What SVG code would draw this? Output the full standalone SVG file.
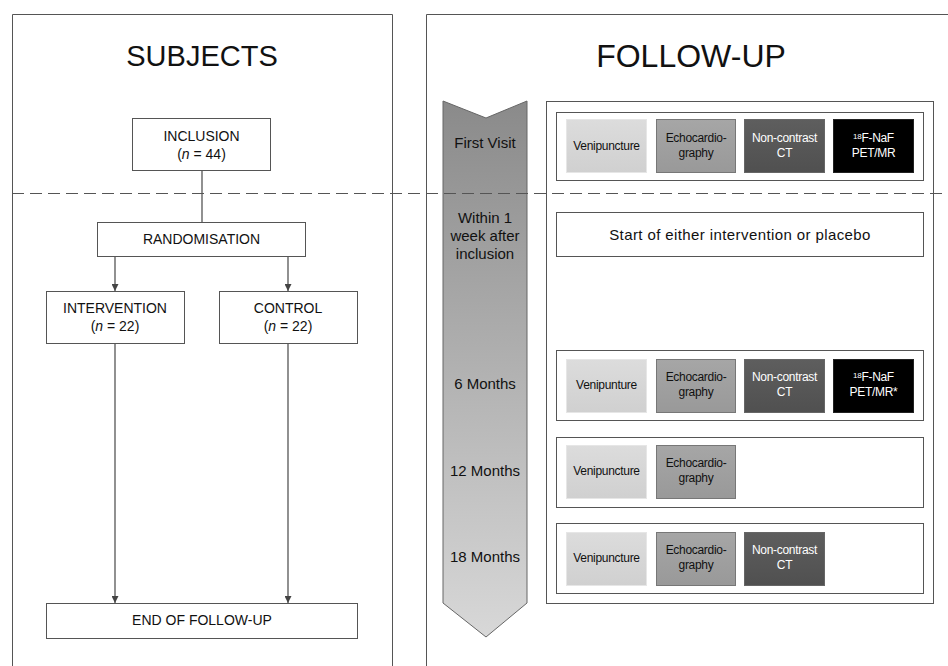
<svg xmlns="http://www.w3.org/2000/svg" width="948" height="666" viewBox="0 0 948 666">
<style>
text{font-family:"Liberation Sans",Arial,sans-serif;fill:#111;text-anchor:middle}
.panel{fill:none;stroke:#555;stroke-width:1}
.box{fill:#fff;stroke:#555;stroke-width:1}
.t13{font-size:14px}
.t11{font-size:12px;letter-spacing:-0.3px}
.lbl{font-size:15px}
.conn{stroke:#555;stroke-width:1.3;fill:none}
.vp{fill:url(#gVp);stroke:#e6e6e6}
.ec{fill:url(#gEc);stroke:#777}
.ct{fill:url(#gCt);stroke:#666}
.pet{fill:#000;stroke:#222}
.w{fill:#fff}
</style>
<defs>
<linearGradient id="gArrow" x1="0" y1="0" x2="0" y2="1">
<stop offset="0" stop-color="#8a8a8a"/>
<stop offset="1" stop-color="#d8d8d8"/>
</linearGradient>
<linearGradient id="gVp" x1="0" y1="0" x2="0" y2="1">
<stop offset="0" stop-color="#dcdcdc"/>
<stop offset="1" stop-color="#d0d0d0"/>
</linearGradient>
<linearGradient id="gEc" x1="0" y1="0" x2="0" y2="1">
<stop offset="0" stop-color="#a6a6a6"/>
<stop offset="1" stop-color="#999"/>
</linearGradient>
<linearGradient id="gCt" x1="0" y1="0" x2="0" y2="1">
<stop offset="0" stop-color="#5e5e5e"/>
<stop offset="1" stop-color="#505050"/>
</linearGradient>
<marker id="ah" viewBox="0 0 10 10" refX="10" refY="5" markerWidth="7" markerHeight="7" markerUnits="userSpaceOnUse" orient="auto">
<path d="M0,0 L10,5 L0,10 z" fill="#444"/>
</marker>
</defs>

<rect width="948" height="666" fill="#fff"/>

<!-- panels -->
<g id="panel-subjects">
<path class="panel" d="M12.5,666 V14.5 H392.5 V666"/>
<text x="202" y="66" style="font-size:29px">SUBJECTS</text>
</g>
<g id="panel-followup">
<path class="panel" d="M426.5,666 V14.5 H948"/>
<text x="691" y="67" style="font-size:32px">FOLLOW-UP</text>
</g>

<!-- connectors -->
<g id="connectors">
<line class="conn" x1="202" y1="170" x2="202" y2="222"/>
<line class="conn" x1="115" y1="256" x2="115" y2="291" marker-end="url(#ah)"/>
<line class="conn" x1="288" y1="256" x2="288" y2="291" marker-end="url(#ah)"/>
<line class="conn" x1="115" y1="343" x2="115" y2="603" marker-end="url(#ah)"/>
<line class="conn" x1="288" y1="343" x2="288" y2="603" marker-end="url(#ah)"/>
</g>

<!-- left nodes -->
<g id="inclusion">
<rect class="box" x="132.5" y="118.5" width="138" height="52"/>
<text class="t13" x="201.5" y="141">INCLUSION</text>
<text class="t13" x="201.5" y="159">(<tspan font-style="italic">n</tspan> = 44)</text>
</g>
<g id="randomisation">
<rect class="box" x="97.5" y="222.5" width="208" height="34"/>
<text class="t13" x="201.5" y="244">RANDOMISATION</text>
</g>
<g id="intervention">
<rect class="box" x="46.5" y="291.5" width="138" height="52"/>
<text class="t13" x="115" y="313">INTERVENTION</text>
<text class="t13" x="115" y="331">(<tspan font-style="italic">n</tspan> = 22)</text>
</g>
<g id="control">
<rect class="box" x="219.5" y="291.5" width="138" height="52"/>
<text class="t13" x="288" y="313">CONTROL</text>
<text class="t13" x="288" y="331">(<tspan font-style="italic">n</tspan> = 22)</text>
</g>
<g id="end">
<rect class="box" x="46.5" y="603.5" width="311" height="35"/>
<text class="t13" x="202" y="625">END OF FOLLOW-UP</text>
</g>

<!-- timeline arrow -->
<g id="timeline">
<path d="M443,101 L486,118 L527,101 L527,603 L486,637 L443,603 Z" fill="url(#gArrow)" stroke="#666" stroke-width="1"/>
<text class="lbl" x="485" y="148">First Visit</text>
<text class="lbl" x="485" y="223">Within 1</text>
<text class="lbl" x="485" y="241">week after</text>
<text class="lbl" x="485" y="259">inclusion</text>
<text class="lbl" x="485" y="389">6 Months</text>
<text class="lbl" x="485" y="476">12 Months</text>
<text class="lbl" x="485" y="562">18 Months</text>
</g>

<!-- right outer box -->
<g id="schedule">
<rect class="box" x="546.5" y="101.5" width="387" height="502"/>
</g>

<!-- first visit -->
<g id="row-first-visit">
<rect class="box" x="556.5" y="112.5" width="367" height="68"/>
<rect class="vp" x="566.5" y="119.5" width="80" height="53"/>
<text class="t11" x="606.5" y="150">Venipuncture</text>
<rect class="ec" x="656.5" y="119.5" width="79" height="53"/>
<text class="t11" x="696" y="142">Echocardio-</text>
<text class="t11" x="696" y="157">graphy</text>
<rect class="ct" x="744.5" y="119.5" width="80" height="53"/>
<text class="t11 w" x="784.5" y="142">Non-contrast</text>
<text class="t11 w" x="784.5" y="157">CT</text>
<rect class="pet" x="833.5" y="119.5" width="80" height="53"/>
<text class="t11 w" x="873.5" y="142"><tspan font-size="8" dy="-3">18</tspan><tspan dy="3">F-NaF</tspan></text>
<text class="t11 w" x="873.5" y="157">PET/MR</text>
</g>

<g id="row-start">
<rect class="box" x="556.5" y="212.5" width="367" height="44"/>
<text x="740" y="240" style="font-size:15px;letter-spacing:0.4px">Start of either intervention or placebo</text>
</g>

<g id="row-6-months">
<rect class="box" x="556.5" y="350.5" width="367" height="70"/>
<rect class="vp" x="566.5" y="359.5" width="80" height="53"/>
<text class="t11" x="606.5" y="389">Venipunture</text>
<rect class="ec" x="656.5" y="359.5" width="79" height="53"/>
<text class="t11" x="696" y="381">Echocardio-</text>
<text class="t11" x="696" y="396">graphy</text>
<rect class="ct" x="744.5" y="359.5" width="80" height="53"/>
<text class="t11 w" x="784.5" y="381">Non-contrast</text>
<text class="t11 w" x="784.5" y="396">CT</text>
<rect class="pet" x="833.5" y="359.5" width="80" height="53"/>
<text class="t11 w" x="873.5" y="381"><tspan font-size="8" dy="-3">18</tspan><tspan dy="3">F-NaF</tspan></text>
<text class="t11 w" x="873.5" y="396">PET/MR*</text>
</g>

<g id="row-12-months">
<rect class="box" x="556.5" y="437.5" width="367" height="70"/>
<rect class="vp" x="566.5" y="445.5" width="80" height="53"/>
<text class="t11" x="606.5" y="475">Venipuncture</text>
<rect class="ec" x="656.5" y="445.5" width="79" height="53"/>
<text class="t11" x="696" y="467">Echocardio-</text>
<text class="t11" x="696" y="482">graphy</text>
</g>

<g id="row-18-months">
<rect class="box" x="556.5" y="523.5" width="367" height="70"/>
<rect class="vp" x="566.5" y="532.5" width="80" height="53"/>
<text class="t11" x="606.5" y="562">Venipuncture</text>
<rect class="ec" x="656.5" y="532.5" width="79" height="53"/>
<text class="t11" x="696" y="554">Echocardio-</text>
<text class="t11" x="696" y="569">graphy</text>
<rect class="ct" x="744.5" y="532.5" width="80" height="53"/>
<text class="t11 w" x="784.5" y="554">Non-contrast</text>
<text class="t11 w" x="784.5" y="569">CT</text>
</g>

<!-- dashed separator -->
<line x1="12" y1="193.5" x2="948" y2="193.5" stroke="#555" stroke-width="1.2" stroke-dasharray="12,6"/>
</svg>
